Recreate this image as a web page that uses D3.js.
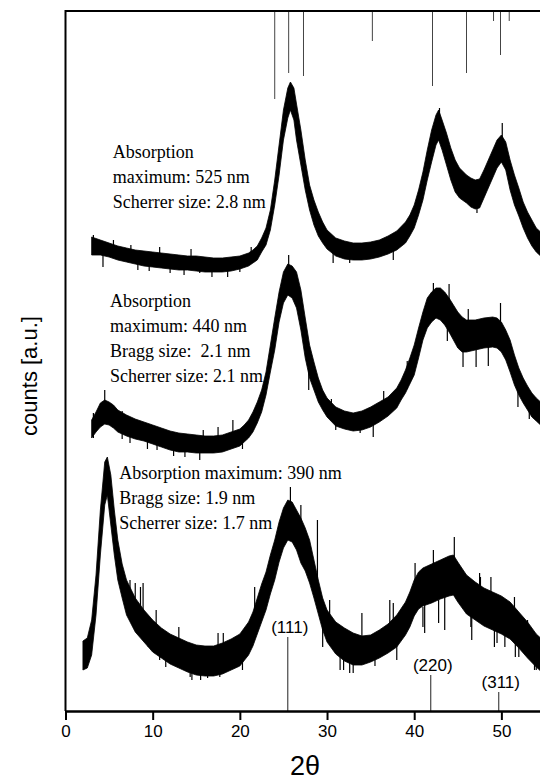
<!DOCTYPE html>
<html>
<head>
<meta charset="utf-8">
<script src="https://cdn.jsdelivr.net/npm/d3@7"></script>
<style>
  body { margin: 0; background: #fff; }
  svg { display: block; }
</style>
</head>
<body>
<svg id="chart" width="540" height="783"></svg>
<script>
// XRD patterns, counts in arbitrary units
// each row: [2theta, upper edge of noise band, lower edge of noise band]
var trace525 = [
  [3.0,474,456],[4,471,456],[5,468,454],[6,465,451],[7,463,449],[8,461,447],[9,460,445],
  [10,459,444],[11,458,443],[12,457,442],[13,456,441],[14,455,441],[15,455,440],[16,454,439],
  [17,453,439],[18,453,439],[19,454,440],[20,455,442],[21,458,445],[21.5,461,448],[22,465,451],
  [22.5,473,459],[23,483,466],[23.5,501,481],[24,531,506],[24.5,566,536],[25,601,571],
  [25.5,623,593],[25.8,629,601],[26.2,623,591],[26.5,607,571],[27,581,546],[27.5,551,521],
  [28,526,501],[28.5,511,486],[29,499,475],[29.5,489,468],[30,481,462],[31,473,455],
  [32,470,452],[33,468,451],[34,468,451],[35,469,452],[36,471,454],[37,475,457],[38,480,461],
  [39,489,468],[39.5,496,475],[40,506,483],[40.5,521,496],[41,539,511],[41.5,561,531],
  [42,581,549],[42.5,596,566],[42.8,601,571],[43.2,591,561],[43.7,578,546],[44.2,563,531],
  [44.7,551,519],[45.2,543,513],[46,536,508],[46.5,533,504],[47,531,502],[47.5,532,503],
  [48,541,513],[48.5,551,523],[49,561,533],[49.5,571,543],[50,576,549],[50.5,569,541],
  [51,551,521],[51.5,536,506],[52,523,495],[52.5,509,483],[53,499,473],[53.5,491,465],
  [54,483,459],[54.5,479,455]
];
var trace440 = [
  [3.0,291,273],[3.5,299,279],[4,308,284],[4.5,311,287],[5,309,286],[5.5,306,283],[6,301,279],
  [7,296,275],[8,292,272],[9,289,270],[10,286,267],[11,283,264],[12,280,261],[13,278,259],
  [14,277,259],[15,276,258],[16,275,258],[17,275,258],[18,276,259],[19,279,262],[20,282,265],
  [20.5,286,269],[21,291,273],[21.5,299,279],[22,309,288],[22.5,321,299],[23,339,316],
  [23.5,366,339],[24,393,361],[24.5,419,389],[25,439,408],[25.5,447,416],[26,445,413],
  [26.5,439,403],[27,421,381],[27.5,393,353],[28,366,333],[28.5,349,321],[29,333,309],
  [29.5,321,301],[30,313,294],[31,304,285],[32,300,282],[33,298,280],[34,300,281],[35,304,284],
  [36,309,289],[37,314,295],[38,323,303],[38.5,331,311],[39,341,318],[39.5,353,327],
  [40,366,336],[40.5,383,353],[41,399,371],[41.5,413,383],[42,419,389],[42.5,423,393],
  [43,423,391],[43.5,419,386],[44,413,379],[44.5,406,371],[45,399,363],[45.5,394,359],
  [46,391,359],[47,391,361],[48,393,363],[49,394,364],[49.5,393,363],[50,389,359],
  [50.5,381,351],[51,371,339],[51.5,356,326],[52,343,316],[52.5,333,308],[53,325,301],
  [53.5,318,294],[54,313,290],[54.5,309,286]
];
var trace390 = [
  [2.0,70,41],[2.5,73,43],[3,91,56],[3.5,136,96],[4,201,156],[4.5,249,206],[4.8,254,216],
  [5.2,236,186],[5.6,201,156],[6,171,131],[6.5,147,113],[7,131,96],[8,113,79],[9,101,69],
  [10,91,59],[11,83,53],[12,77,47],[13,73,43],[14,69,39],[15,66,36],[16,65,35],[17,65,35],
  [18,68,37],[19,72,41],[20,77,45],[21,89,56],[21.5,99,65],[22,113,77],[22.5,127,89],
  [23,139,101],[23.5,156,117],[24,171,131],[24.5,189,149],[25,203,163],[25.5,211,171],
  [26,209,169],[26.5,201,161],[27,193,148],[27.5,183,140],[28,171,128],[28.5,151,113],
  [29,131,97],[29.5,113,81],[30,101,69],[31,89,57],[32,83,50],[33,78,46],[34,75,46],
  [35,76,49],[36,81,53],[37,87,58],[38,96,64],[39,109,76],[39.5,119,84],[40,131,95],
  [40.5,139,102],[41,143,105],[42,147,108],[43,151,112],[44,155,115],[44.5,156,116],
  [45,149,109],[46,136,97],[47,129,91],[48,123,85],[49,119,81],[50,115,77],[51,109,72],
  [52,99,63],[53,89,53],[54,77,44],[54.5,73,40]
];

// single noise spikes sticking out of the band: [2theta, from, to]
var spikes525 = [
  [3.2,460,476],[4.3,444,458],[5.5,455,471],[7.5,449,466],[8.3,441,455],[9.6,440,452],
  [10.8,450,464],[12,438,450],[13.6,436,447],[14.4,450,462],[15.4,438,450],[16.8,434,448],
  [18.6,434,446],[20,439,450],[21.3,450,464],[30.7,448,462],[32.6,448,460],[37.6,451,465],
  [42.9,580,603],[47.2,498,510],[49.2,545,561],[50.1,560,588]
];
var spikes440 = [
  [3.2,273,298],[4.5,300,321],[6.5,272,300],[7.4,268,280],[9.4,262,275],[10.5,261,275],
  [12.4,255,268],[13.7,254,268],[15.4,251,265],[15.8,268,281],[17.5,272,284],[19.2,275,291],
  [20.3,262,272],[25.6,430,456],[27.9,321,345],[30.5,290,312],[31,281,295],[33.8,278,290],
  [35.3,274,290],[36.5,300,320],[39.2,322,350],[42.2,410,428],[43.8,370,385],[44,400,427],
  [45.6,344,365],[46.2,385,402],[47.1,344,365],[48.5,345,365],[49.9,385,408],[51.9,304,320],
  [53.2,292,305]
];
var spikes390 = [
  [3.4,100,108],[7.4,110,131],[7.8,84,95],[8.0,110,128],[8.6,105,124],[8.9,95,128],
  [9.5,64,80],[10.4,85,101],[10.8,51,65],[11.5,44,58],[13.0,70,84],[14.3,34,50],[14.5,31,45],
  [15.5,31,45],[16.3,33,45],[17.5,62,78],[17.7,34,45],[18.1,60,78],[19.0,60,71],[20.3,41,55],
  [21.7,90,124],[25.8,190,224],[27.0,170,206],[28.9,110,191],[29.5,64,85],[30.3,90,111],
  [31.5,41,60],[31.9,41,60],[32.6,38,55],[33.0,38,55],[34,70,98],[35.5,45,55],[37.2,85,111],
  [37.6,85,108],[38.0,51,66],[40.1,120,148],[41.0,84,104],[41.2,78,110],[42.2,140,161],
  [42.8,88,111],[43.5,81,115],[44.6,150,174],[45.2,125,144],[46.5,84,100],[46.6,71,100],
  [47.5,120,138],[47.6,115,134],[48.8,112,134],[49.2,64,85],[49.5,68,85],[50.4,64,80],
  [51.5,95,114],[51.6,54,72],[52.0,54,66],[53.0,80,91],[53.8,41,55],[54,41,60]
];

// reference reflections hanging from the top frame: [2theta, length]
var refTop = [[24.0,88],[25.6,62],[27.3,65],[35.2,30],[42.1,75],[46.0,62],[49.1,10],[49.9,44],[50.9,10]];
// gold reflections at the bottom
var refBottom = [[25.5,74,"(111)"],[41.9,36,"(220)"],[49.7,19,"(311)"]];

var xTicks = [0, 10, 20, 30, 40, 50];

var notes = [
  {x: 112.7, y: 158, lines: ["Absorption", "maximum: 525 nm", "Scherrer size: 2.8 nm"]},
  {x: 110, y: 307, lines: ["Absorption", "maximum: 440 nm", "Bragg size:  2.1 nm", "Scherrer size: 2.1 nm"]},
  {x: 119.3, y: 479, lines: ["Absorption maximum: 390 nm", "Bragg size: 1.9 nm", "Scherrer size: 1.7 nm"]}
];

var svg = d3.select("#chart");

var x = d3.scaleLinear().domain([0, 54.43]).range([65.5, 540]);
var y = d3.scaleLinear().domain([0, 700]).range([711, 11]);

// traces
var area = d3.area()
  .x(function(d){ return x(d[0]) })
  .y0(function(d){ return y(d[2]) })
  .y1(function(d){ return y(d[1]) });

[trace525, trace440, trace390].forEach(function(t){
  svg.append("path")
    .attr("d", area(t))
    .attr("fill", "#000")
    .attr("stroke", "#000")
    .attr("stroke-width", 0.8)
    .attr("stroke-linejoin", "bevel");
});

[spikes525, spikes440, spikes390].forEach(function(s){
  svg.selectAll(null)
    .data(s)
    .enter()
    .append("line")
      .attr("x1", function(d){ return x(d[0]) })
      .attr("x2", function(d){ return x(d[0]) })
      .attr("y1", function(d){ return y(d[1]) })
      .attr("y2", function(d){ return y(d[2]) })
      .attr("stroke", "#000")
      .attr("stroke-width", 1.2);
});

// reference sticks
svg.selectAll(null)
  .data(refTop)
  .enter()
  .append("line")
    .attr("x1", function(d){ return x(d[0]) })
    .attr("x2", function(d){ return x(d[0]) })
    .attr("y1", y(700))
    .attr("y2", function(d){ return y(700 - d[1]) })
    .attr("stroke", "#444")
    .attr("stroke-width", 1);

svg.selectAll(null)
  .data(refBottom)
  .enter()
  .append("line")
    .attr("x1", function(d){ return x(d[0]) })
    .attr("x2", function(d){ return x(d[0]) })
    .attr("y1", y(0))
    .attr("y2", function(d){ return y(d[1]) })
    .attr("stroke", "#222")
    .attr("stroke-width", 1);

svg.selectAll(null)
  .data(refBottom)
  .enter()
  .append("text")
    .attr("x", function(d){ return x(d[0]) + 2 })
    .attr("y", function(d){ return y(d[1]) - 4 })
    .attr("text-anchor", "middle")
    .attr("font-family", "'Liberation Sans', Arial, sans-serif")
    .attr("font-size", 17)
    .text(function(d){ return d[2] });

// frame: top line and left axis
svg.append("line")
  .attr("x1", x(0)).attr("x2", 540)
  .attr("y1", y(700)).attr("y2", y(700))
  .attr("stroke", "#000").attr("stroke-width", 2);
svg.append("line")
  .attr("x1", x(0)).attr("x2", x(0))
  .attr("y1", y(700) - 1).attr("y2", y(0))
  .attr("stroke", "#000").attr("stroke-width", 2);

// x axis
var xAxis = svg.append("g")
  .attr("transform", "translate(0," + y(0) + ")")
  .call(d3.axisBottom(x).tickValues(xTicks).tickSize(9).tickPadding(5).tickSizeOuter(0));
xAxis.select(".domain").attr("stroke-width", 2.5);
xAxis.selectAll(".tick line").attr("stroke-width", 2);
xAxis.selectAll(".tick text")
  .attr("font-family", "'Liberation Sans', Arial, sans-serif")
  .attr("font-size", 17)
  .attr("fill", "#000");

svg.append("text")
  .attr("x", 305)
  .attr("y", 775)
  .attr("text-anchor", "middle")
  .attr("font-family", "'Liberation Sans', Arial, sans-serif")
  .attr("font-size", 27)
  .text("2θ");

svg.append("text")
  .attr("transform", "translate(37,376) rotate(-90)")
  .attr("text-anchor", "middle")
  .attr("font-family", "'Liberation Sans', Arial, sans-serif")
  .attr("font-size", 22)
  .text("counts [a.u.]");

// annotations
notes.forEach(function(n){
  svg.append("g")
    .selectAll("text")
    .data(n.lines)
    .enter()
    .append("text")
      .attr("x", n.x)
      .attr("y", function(d, i){ return n.y + i * 25 })
      .attr("font-family", "'Liberation Serif', 'Times New Roman', serif")
      .attr("font-size", 18)
      .style("white-space", "pre")
      .text(function(d){ return d });
});
</script>
</body>
</html>
